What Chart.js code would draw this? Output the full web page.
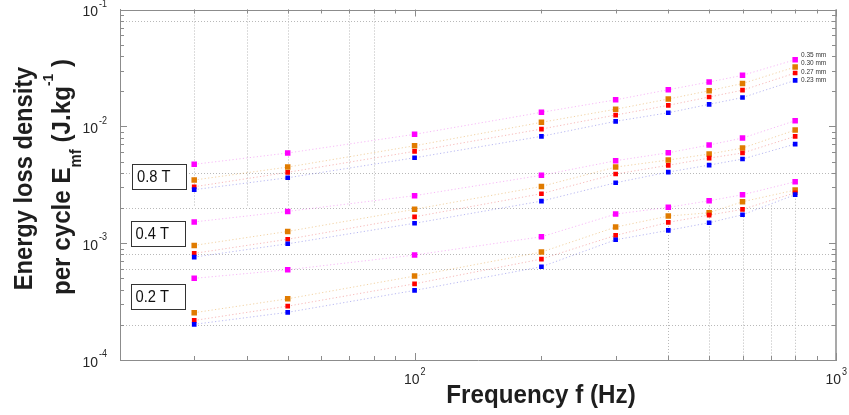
<!DOCTYPE html>
<html>
<head>
<meta charset="utf-8">
<script src="https://cdn.jsdelivr.net/npm/chart.js@4/dist/chart.umd.min.js"></script>
<style>
  html, body { margin: 0; padding: 0; background: #ffffff; }
  #wrap { width: 849px; height: 415px; }
</style>
</head>
<body>
<div id="wrap"><canvas id="c" width="849" height="415"></canvas></div>
<script>
// ---------- data ----------
const frequencies = [30, 50, 100, 200, 300, 400, 500, 600, 800];
const thicknessLabels = ['0.35 mm', '0.30 mm', '0.27 mm', '0.23 mm'];
const inductionLabels = ['0.8 T', '0.4 T', '0.2 T'];

// 0.8 T
const b08_t035 = [4.73e-3, 5.91e-3, 8.54e-3, 1.318e-2, 1.686e-2, 2.058e-2, 2.395e-2, 2.733e-2, 3.718e-2];
const b08_t030 = [3.47e-3, 4.48e-3, 6.82e-3, 1.082e-2, 1.401e-2, 1.713e-2, 2.018e-2, 2.325e-2, 3.219e-2];
const b08_t027 = [3.04e-3, 4.04e-3, 6.11e-3, 9.48e-3, 1.249e-2, 1.513e-2, 1.782e-2, 2.038e-2, 2.859e-2];
const b08_t023 = [2.87e-3, 3.63e-3, 5.38e-3, 8.21e-3, 1.104e-2, 1.307e-2, 1.543e-2, 1.764e-2, 2.476e-2];
// 0.4 T
const b04_t035 = [1.52e-3, 1.87e-3, 2.55e-3, 3.81e-3, 5.08e-3, 5.94e-3, 6.92e-3, 7.94e-3, 1.117e-2];
const b04_t030 = [9.57e-4, 1.26e-3, 1.95e-3, 3.06e-3, 4.48e-3, 5.15e-3, 5.79e-3, 6.52e-3, 9.30e-3];
const b04_t027 = [8.18e-4, 1.08e-3, 1.68e-3, 2.65e-3, 3.91e-3, 4.64e-3, 5.35e-3, 5.91e-3, 8.21e-3];
const b04_t023 = [7.60e-4, 9.88e-4, 1.48e-3, 2.29e-3, 3.29e-3, 4.06e-3, 4.66e-3, 5.25e-3, 7.05e-3];
// 0.2 T
const b02_t035 = [5.00e-4, 5.92e-4, 7.91e-4, 1.134e-3, 1.775e-3, 2.025e-3, 2.307e-3, 2.596e-3, 3.355e-3];
const b02_t030 = [2.54e-4, 3.34e-4, 5.23e-4, 8.39e-4, 1.373e-3, 1.706e-3, 1.821e-3, 2.262e-3, 2.848e-3];
const b02_t027 = [2.18e-4, 2.89e-4, 4.49e-4, 7.31e-4, 1.166e-3, 1.507e-3, 1.740e-3, 1.947e-3, 2.700e-3];
const b02_t023 = [2.02e-4, 2.56e-4, 3.94e-4, 6.28e-4, 1.069e-3, 1.287e-3, 1.496e-3, 1.751e-3, 2.600e-3];

// axis ranges and tick decades
const xMin = 20, xMax = 1000;
const yMin = 1e-4, yMax = 1e-1;
const xTickExponents = [2, 3];
const yTickExponents = [-1, -2, -3, -4];

// the partial dotted grid of the original figure (values)
const hGridValues = [0.08, 0.004, 0.002, 0.0008, 0.0006, 0.0002];
const vGridUpperFreqs = [30, 40, 50, 70, 80];
const vGridUpperEnd = 0.0021;
const vGridLowerFreqs = [400, 500, 600, 700, 800];
const vGridLowerEnds = [0.0020, 0.0021, 0.0019, 0.0021, 0.0024];

// ---------- styles ----------
const markerColors = ['#ff00ff', '#e07b00', '#ff0000', '#0000ff'];
const lineColors = ['rgba(235,80,235,0.4)', 'rgba(225,150,40,0.42)', 'rgba(235,70,70,0.38)', 'rgba(70,70,220,0.38)'];
const markerRadius = [3.9, 3.9, 3.3, 3.3];
const FONT = '"Liberation Sans", Arial, Helvetica, sans-serif';

const groups = [
  [b08_t035, b08_t030, b08_t027, b08_t023],
  [b04_t035, b04_t030, b04_t027, b04_t023],
  [b02_t035, b02_t030, b02_t027, b02_t023]
];

const datasets = [];
groups.forEach((g, gi) => {
  g.forEach((vals, ti) => {
    datasets.push({
      label: inductionLabels[gi] + ' ' + thicknessLabels[ti],
      data: frequencies.map((f, i) => ({ x: f, y: vals[i] })),
      borderColor: lineColors[ti],
      borderWidth: 1,
      borderDash: [1.2, 2.3],
      backgroundColor: markerColors[ti],
      pointBackgroundColor: markerColors[ti],
      pointBorderColor: markerColors[ti],
      pointBorderWidth: 0,
      pointStyle: 'rect',
      pointRadius: markerRadius[ti],
      fill: false,
      tension: 0,
      order: 3 - ti
    });
  });
});

// ---------- helpers ----------
function seg(ctx, x1, y1, x2, y2) {
  ctx.beginPath(); ctx.moveTo(x1, y1); ctx.lineTo(x2, y2); ctx.stroke();
}
function richWidth(ctx, parts) {
  let w = 0;
  parts.forEach(p => { ctx.font = p.font; w += ctx.measureText(p.text).width; });
  return w;
}
function drawRich(ctx, parts, x0) {
  let x = x0;
  parts.forEach(p => {
    ctx.font = p.font;
    ctx.fillText(p.text, x, p.dy || 0);
    x += ctx.measureText(p.text).width;
  });
}

const decor = {
  id: 'decor',
  beforeDatasetsDraw(chart) {
    const { ctx, chartArea: a, scales: { x, y } } = chart;
    ctx.save();
    // dotted partial grid
    ctx.strokeStyle = '#b9b9b9';
    ctx.lineWidth = 1;
    ctx.setLineDash([1, 2]);
    hGridValues.forEach(v => {
      const py = Math.round(y.getPixelForValue(v)) + 0.5;
      seg(ctx, a.left, py, a.right, py);
    });
    vGridUpperFreqs.forEach(f => {
      const px = Math.round(x.getPixelForValue(f)) + 0.5;
      seg(ctx, px, a.top, px, y.getPixelForValue(vGridUpperEnd));
    });
    vGridLowerFreqs.forEach((f, i) => {
      const px = Math.round(x.getPixelForValue(f)) + 0.5;
      seg(ctx, px, y.getPixelForValue(vGridLowerEnds[i]), px, a.bottom);
    });
    ctx.setLineDash([]);

    // inward tick marks on all four sides
    ctx.strokeStyle = '#8c8c8c';
    for (let n = -4; n <= -1; n++) {
      for (let k = 1; k <= 9; k++) {
        const v = k * Math.pow(10, n);
        if (v > yMax * 1.0001) break;
        const py = Math.round(y.getPixelForValue(v)) + 0.5;
        const len = k === 1 ? 7 : 4;
        seg(ctx, a.left, py, a.left + len, py);
        seg(ctx, a.right, py, a.right - len, py);
      }
    }
    for (let n = 1; n <= 3; n++) {
      for (let k = 1; k <= 9; k++) {
        const v = k * Math.pow(10, n);
        if (v < xMin || v > xMax * 1.0001) continue;
        const px = Math.round(x.getPixelForValue(v)) + 0.5;
        const len = k === 1 ? 7 : 4;
        seg(ctx, px, a.bottom, px, a.bottom - len);
        seg(ctx, px, a.top, px, a.top + len);
      }
    }
    ctx.restore();
  },
  afterDraw(chart) {
    const { ctx, chartArea: a, scales: { x, y } } = chart;
    ctx.save();
    // top and right frame
    ctx.strokeStyle = '#8c8c8c';
    ctx.lineWidth = 1;
    seg(ctx, a.left, Math.round(a.top) + 0.5, a.right, Math.round(a.top) + 0.5);
    ctx.lineWidth = 1.5;
    seg(ctx, a.right, a.top, a.right, a.bottom);

    // tick labels 10^n
    ctx.fillStyle = '#262626';
    ctx.textBaseline = 'middle';
    yTickExponents.forEach(e => {
      const py = y.getPixelForValue(Math.pow(10, e));
      ctx.save();
      ctx.translate(98, py + 2.5);
      ctx.scale(0.9, 1);
      ctx.font = '15.5px ' + FONT;
      ctx.textAlign = 'right';
      ctx.fillText('10', 0, 0);
      ctx.font = '10px ' + FONT;
      ctx.textAlign = 'left';
      ctx.fillText(String(e), 1, -8);
      ctx.restore();
    });
    xTickExponents.forEach(e => {
      const px = x.getPixelForValue(Math.pow(10, e));
      ctx.save();
      ctx.translate(px + 5, 379.5);
      ctx.scale(0.9, 1);
      ctx.font = '15.5px ' + FONT;
      ctx.textAlign = 'right';
      ctx.fillText('10', 0, 0);
      ctx.font = '10px ' + FONT;
      ctx.textAlign = 'left';
      ctx.fillText(String(e), 1, -7.5);
      ctx.restore();
    });

    // axis titles
    ctx.fillStyle = '#1e1e1e';
    ctx.textBaseline = 'alphabetic';
    ctx.save();
    ctx.translate(541, 403);
    ctx.scale(0.93, 1);
    ctx.font = 'bold 26px ' + FONT;
    ctx.textAlign = 'center';
    ctx.fillText('Frequency f (Hz)', 0, 0);
    ctx.restore();

    ctx.save();
    ctx.translate(31.5, 178.5);
    ctx.rotate(-Math.PI / 2);
    ctx.scale(0.91, 1);
    ctx.font = 'bold 26px ' + FONT;
    ctx.textAlign = 'center';
    ctx.fillText('Energy loss density', 0, 0);
    ctx.restore();

    const line2 = [
      { text: 'per cycle E', font: 'bold 26px ' + FONT },
      { text: 'mf', font: 'bold 16px ' + FONT, dy: 11 },
      { text: ' (J.kg', font: 'bold 26px ' + FONT },
      { text: '-1', font: 'bold 15px ' + FONT, dy: -17 },
      { text: ' )', font: 'bold 26px ' + FONT }
    ];
    ctx.save();
    ctx.translate(70, 177);
    ctx.rotate(-Math.PI / 2);
    ctx.scale(0.93, 1);
    ctx.textAlign = 'left';
    const w2 = richWidth(ctx, line2);
    drawRich(ctx, line2, -w2 / 2);
    ctx.restore();

    // boxed induction labels
    const boxes = [
      { x: 132.5, y: 164.5, w: 54, h: 25, tx: 137 },
      { x: 131.5, y: 221.5, w: 54, h: 25, tx: 135.5 },
      { x: 131.5, y: 284.5, w: 54, h: 25, tx: 135.5 }
    ];
    boxes.forEach((b, i) => {
      ctx.fillStyle = '#ffffff';
      ctx.fillRect(b.x, b.y, b.w, b.h);
      ctx.strokeStyle = '#333333';
      ctx.lineWidth = 1;
      ctx.strokeRect(b.x, b.y, b.w, b.h);
      ctx.save();
      ctx.translate(b.tx, b.y + b.h / 2 + 1);
      ctx.scale(0.92, 1);
      ctx.fillStyle = '#111111';
      ctx.font = '16px ' + FONT;
      ctx.textAlign = 'left';
      ctx.textBaseline = 'middle';
      ctx.fillText(inductionLabels[i], 0, 0);
      ctx.restore();
    });

    // small legend text next to the 0.8 T, 800 Hz markers
    const legendY = [55, 63.3, 71.8, 79.8];
    ctx.fillStyle = '#333333';
    ctx.font = '6.5px ' + FONT;
    ctx.textAlign = 'left';
    ctx.textBaseline = 'middle';
    thicknessLabels.forEach((t, i) => ctx.fillText(t, 801, legendY[i]));
    ctx.restore();
  }
};

new Chart(document.getElementById('c'), {
  type: 'line',
  data: { datasets },
  plugins: [decor],
  options: {
    responsive: false,
    devicePixelRatio: 1,
    animation: false,
    layout: { padding: { left: 120, right: 13, top: 9.5, bottom: 55 } },
    plugins: {
      legend: { display: false },
      tooltip: { enabled: false },
      title: { display: false }
    },
    scales: {
      x: {
        type: 'logarithmic',
        min: xMin, max: xMax,
        grid: { display: false, drawTicks: false },
        border: { display: true, color: '#8c8c8c', width: 1 },
        ticks: { display: false }
      },
      y: {
        type: 'logarithmic',
        min: yMin, max: yMax,
        grid: { display: false, drawTicks: false },
        border: { display: true, color: '#8c8c8c', width: 1 },
        ticks: { display: false }
      }
    }
  }
});
</script>
</body>
</html>
